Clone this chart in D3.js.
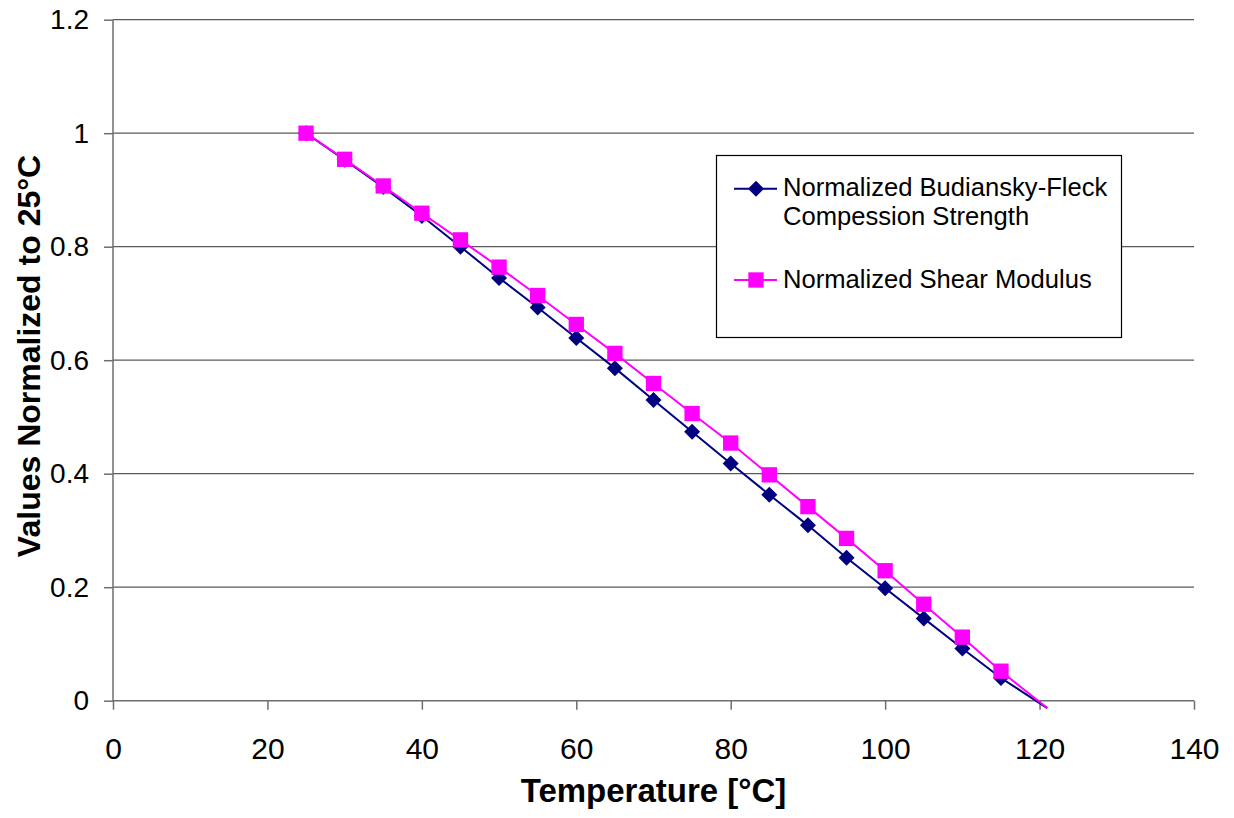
<!DOCTYPE html>
<html>
<head>
<meta charset="utf-8">
<script src="https://cdn.jsdelivr.net/npm/d3@7"></script>
<style>
  html, body { margin: 0; padding: 0; background: #fff; }
  svg { display: block; font-family: "Liberation Sans", Arial, sans-serif; }
</style>
</head>
<body>
<svg id="chart" width="1234" height="818"></svg>
<script>
// Temperature points [°C]
const temperature = [25, 30, 35, 40, 45, 50, 55, 60, 65, 70, 75, 80, 85, 90, 95, 100, 105, 110, 115, 121];

// Normalized Budiansky-Fleck compression strength
const compressionStrength = [1.000, 0.953, 0.905, 0.854, 0.800, 0.745, 0.693, 0.639, 0.586, 0.530,
                             0.474, 0.418, 0.363, 0.309, 0.252, 0.198, 0.145, 0.092, 0.040, -0.013];

// Normalized shear modulus
const shearModulus = [1.000, 0.954, 0.907, 0.859, 0.812, 0.764, 0.714, 0.663, 0.612, 0.559,
                      0.506, 0.454, 0.398, 0.342, 0.286, 0.229, 0.170, 0.112, 0.052, -0.013];

const xTicks = [0, 20, 40, 60, 80, 100, 120, 140];
const yTicks = [0, 0.2, 0.4, 0.6, 0.8, 1, 1.2];

const seriesNames = ["Normalized Budiansky-Fleck|Compession Strength", "Normalized Shear Modulus"];

const svg = d3.select("#chart");
const plotLeft = 113, plotRight = 1194, plotTop = 19.7, plotBottom = 700.7;

const x = d3.scaleLinear().domain([0, 140]).range([plotLeft, plotRight]);
const y = d3.scaleLinear().domain([0, 1.2]).range([plotBottom, plotTop]);

const gridColor = "#5a5a5a";
const axisColor = "#6e6e6e";

// Horizontal gridlines
svg.append("g")
  .selectAll("line")
  .data(yTicks.filter(d => d > 0))
  .join("line")
  .attr("x1", plotLeft).attr("x2", plotRight)
  .attr("y1", d => y(d)).attr("y2", d => y(d))
  .attr("stroke", gridColor).attr("stroke-width", 1.2);

// X axis
const xAxis = svg.append("g")
  .attr("transform", `translate(0,${plotBottom})`)
  .call(d3.axisBottom(x).tickValues(xTicks).tickSize(9).tickPadding(28).tickFormat(d3.format("d")));
xAxis.select(".domain").attr("stroke", axisColor).attr("stroke-width", 1.5).attr("d", `M${plotLeft},0H${plotRight}`);
xAxis.selectAll(".tick line").attr("stroke", axisColor).attr("stroke-width", 1.5);
xAxis.selectAll(".tick text")
  .attr("font-size", 30).attr("fill", "#000")
  .attr("font-family", "Liberation Sans, Arial, sans-serif");

// Y axis
const yAxis = svg.append("g")
  .attr("transform", `translate(${plotLeft},0)`)
  .call(d3.axisLeft(y).tickValues(yTicks).tickSize(9).tickPadding(15).tickFormat(d => d3.format("~g")(d)));
yAxis.select(".domain").attr("stroke", axisColor).attr("stroke-width", 1.5).attr("d", `M0,${plotTop}V${plotBottom}`);
yAxis.selectAll(".tick line").attr("stroke", axisColor).attr("stroke-width", 1.5);
yAxis.selectAll(".tick text")
  .attr("font-size", 28).attr("fill", "#000")
  .attr("font-family", "Liberation Sans, Arial, sans-serif");

// Axis titles
svg.append("text")
  .attr("x", (plotLeft + plotRight) / 2).attr("y", 802)
  .attr("text-anchor", "middle")
  .attr("font-size", 33).attr("font-weight", "bold")
  .text("Temperature [°C]");

svg.append("text")
  .attr("transform", `translate(40,356) rotate(-90)`)
  .attr("text-anchor", "middle")
  .attr("font-size", 32).attr("font-weight", "bold")
  .text("Values Normalized to 25°C");

// Series
const series = [
  { values: compressionStrength, color: "#000080", marker: d3.symbolSquare, size: 128, angle: 45 },
  { values: shearModulus, color: "#FF00FF", marker: d3.symbolSquare, size: 235, angle: 0 }
];

const line = d3.line().x(d => x(d[0])).y(d => y(d[1]));

series.forEach(s => {
  const pts = temperature.map((t, i) => [t, s.values[i]]);
  svg.append("path")
    .datum(pts)
    .attr("d", line)
    .attr("fill", "none")
    .attr("stroke", s.color)
    .attr("stroke-width", 2);
  svg.append("g")
    .selectAll("path")
    .data(pts.filter(p => p[1] >= 0))
    .join("path")
    .attr("transform", p => `translate(${x(p[0])},${y(p[1])}) rotate(${s.angle})`)
    .attr("d", d3.symbol().type(s.marker).size(s.size))
    .attr("fill", s.color);
});

// Legend
const legend = svg.append("g");
legend.append("rect")
  .attr("x", 716.5).attr("y", 155.5).attr("width", 405).attr("height", 182)
  .attr("fill", "#fff").attr("stroke", "#000").attr("stroke-width", 1.2);

const legendRows = [
  { s: series[0], lines: seriesNames[0].split("|"), sy: 188.7, ty: 196 },
  { s: series[1], lines: seriesNames[1].split("|"), sy: 280, ty: 288 }
];
legendRows.forEach(r => {
  legend.append("line")
    .attr("x1", 734).attr("x2", 777).attr("y1", r.sy).attr("y2", r.sy)
    .attr("stroke", r.s.color).attr("stroke-width", 2);
  legend.append("path")
    .attr("transform", `translate(756,${r.sy}) rotate(${r.s.angle})`)
    .attr("d", d3.symbol().type(r.s.marker).size(r.s.size))
    .attr("fill", r.s.color);
  r.lines.forEach((t, i) => {
    legend.append("text")
      .attr("x", 783).attr("y", r.ty + i * 29)
      .attr("font-size", 25.6).attr("fill", "#000")
      .text(t);
  });
});
</script>
</body>
</html>
